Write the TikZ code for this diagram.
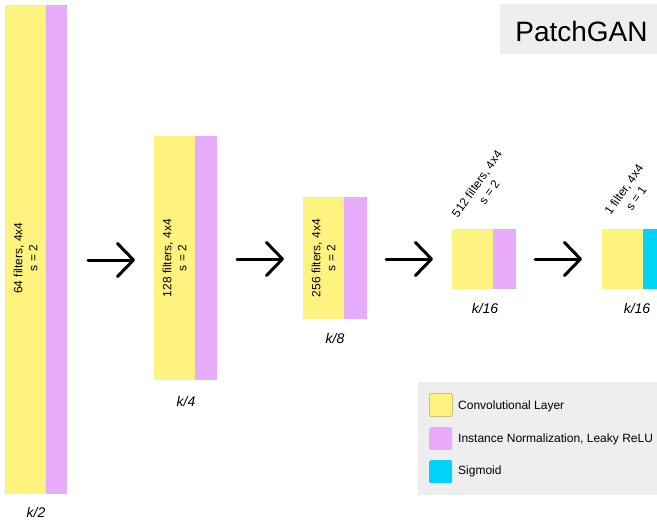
\documentclass[tikz,border=0pt]{standalone}
\usepackage{fontspec}
\setmainfont{Liberation Sans}
\usetikzlibrary{arrows.meta}

\definecolor{convY}{HTML}{FFF380}
\definecolor{normP}{HTML}{E8AAFA}
\definecolor{sigC}{HTML}{00D2F8}
\definecolor{panelG}{HTML}{EEEEEE}
\definecolor{swatchEdge}{HTML}{C9C07A}

\tikzset{
  layerbox/.style={rectangle, inner sep=0pt, outer sep=0pt, draw=none, anchor=north west},
  conv/.style={layerbox, fill=convY},
  norm/.style={layerbox, fill=normP},
  sigm/.style={layerbox, fill=sigC},
  spec/.style={align=center, inner sep=0pt, font=\fontsize{12}{15}\selectfont},
  sizelabel/.style={anchor=base, inner sep=0pt, font=\fontsize{14}{16}\selectfont\itshape},
  flow/.style={line width=3pt, line cap=round, -{Straight Barb[length=16pt, width=33pt, line width=3pt, round]}},
  swatch/.style={rectangle, inner sep=0pt, minimum width=23pt, minimum height=23pt, rounded corners=2pt, anchor=north west},
  legendtext/.style={anchor=base west, inner sep=0pt, font=\fontsize{12}{14}\selectfont},
}

\begin{document}
\begin{tikzpicture}[x=1pt, y=-1pt]
\useasboundingbox (0,0) rectangle (657,523);

% layer 1: 64 filters
\node[conv, minimum width=41pt, minimum height=489pt] (c1) at (5,5) {};
\node[norm, minimum width=21pt, minimum height=489pt] (n1) at (46,5) {};
\node[spec, rotate=90] (t1) at (25.5,258) {64 filters, 4x4\\s = 2};
\node[sizelabel] (k1) at (36,517) {k/2};

% layer 2: 128 filters
\node[conv, minimum width=41pt, minimum height=244pt] (c2) at (154,136) {};
\node[norm, minimum width=22pt, minimum height=244pt] (n2) at (195,136) {};
\node[spec, rotate=90] (t2) at (174.5,258) {128 filters, 4x4\\s = 2};
\node[sizelabel] (k2) at (186,406) {k/4};

% layer 3: 256 filters
\node[conv, minimum width=41pt, minimum height=122pt] (c3) at (303,197) {};
\node[norm, minimum width=23pt, minimum height=122pt] (n3) at (344,197) {};
\node[spec, rotate=90] (t3) at (323.5,258) {256 filters, 4x4\\s = 2};
\node[sizelabel] (k3) at (335,343) {k/8};

% layer 4: 512 filters
\node[conv, minimum width=41pt, minimum height=60pt] (c4) at (452,229) {};
\node[norm, minimum width=23pt, minimum height=60pt] (n4) at (493,229) {};
\node[spec, rotate=55] (t4) at (483,188) {512 filters, 4x4\\s = 2};
\node[sizelabel] (k4) at (485,313) {k/16};

% layer 5: 1 filter + sigmoid
\node[conv, minimum width=41pt, minimum height=60pt] (c5) at (602,229) {};
\node[sigm, minimum width=14pt, minimum height=60pt] (s5) at (643,229) {};
\node[spec, rotate=55] (t5) at (630,194) {1 filter, 4x4\\s = 1};
\node[sizelabel] (k5) at (637,313) {k/16};

% arrows between layers
\coordinate (a1s) at (88,260);  \coordinate (a1e) at (135,260);
\coordinate (a2s) at (237,259); \coordinate (a2e) at (284,259);
\coordinate (a3s) at (386,259); \coordinate (a3e) at (433,259);
\coordinate (a4s) at (535,259); \coordinate (a4e) at (582,259);
\draw[flow] (a1s) -- (a1e);
\draw[flow] (a2s) -- (a2e);
\draw[flow] (a3s) -- (a3e);
\draw[flow] (a4s) -- (a4e);

% title panel
\node[layerbox, fill=panelG, minimum width=157pt, minimum height=50pt] (title) at (500,4) {};
\node[anchor=base, inner sep=0pt, font=\fontsize{28}{32}\selectfont] (titletext) at (581.5,41) {PatchGAN};

% legend panel
\node[layerbox, fill=panelG, minimum width=239pt, minimum height=113pt] (legend) at (418,382) {};
\node[swatch, fill=convY, draw=swatchEdge, line width=0.8pt] (l1) at (429,393) {};
\node[swatch, fill=normP] (l2) at (429,427) {};
\node[swatch, fill=sigC] (l3) at (429,460) {};
\node[legendtext] (lt1) at (458,409) {Convolutional Layer};
\node[legendtext] (lt2) at (458,442) {Instance Normalization, Leaky ReLU};
\node[legendtext] (lt3) at (458,474) {Sigmoid};
\end{tikzpicture}
\end{document}
